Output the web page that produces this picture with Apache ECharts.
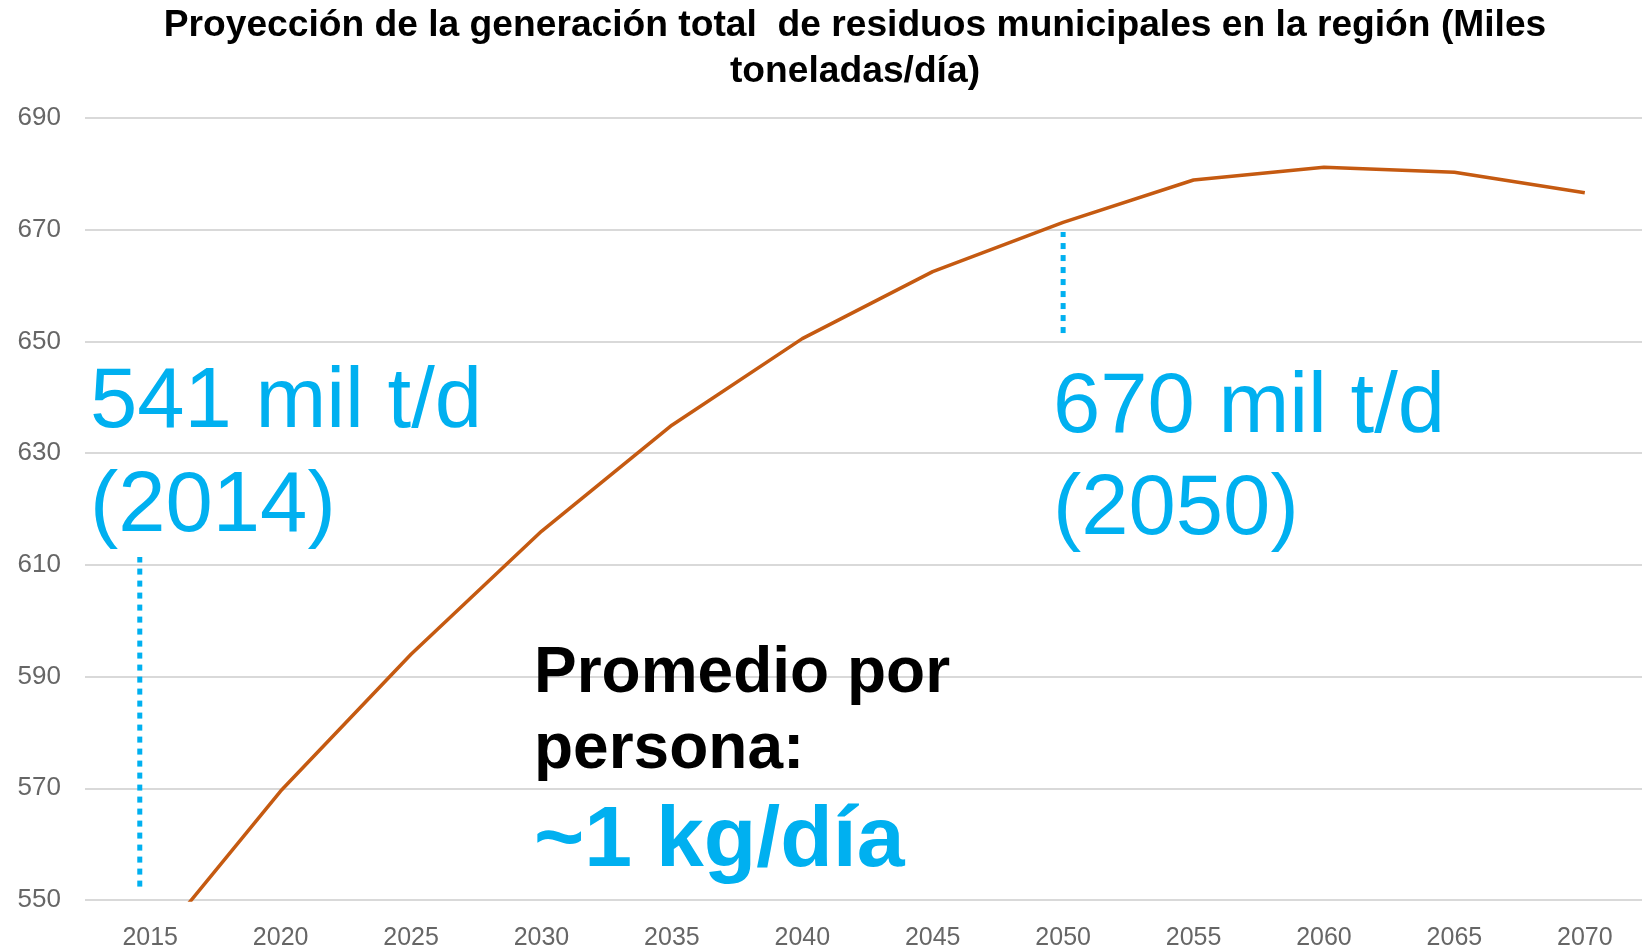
<!DOCTYPE html>
<html>
<head>
<meta charset="utf-8">
<title>Proyección de residuos</title>
<script src="https://cdn.jsdelivr.net/npm/echarts@6/dist/echarts.min.js"></script>
<style>
  html, body { margin: 0; padding: 0; background: #fff; }
  #chart { width: 1642px; height: 951px; }
</style>
</head>
<body>
<div id="chart"></div>
<script>
// años del eje x
const years = ['2015', '2020', '2025', '2030', '2035', '2040', '2045', '2050', '2055', '2060', '2065', '2070'];
// generación total (miles t/día)
const generation = [541, 569.5, 594, 616, 635, 650.5, 662.5, 671.3, 678.9, 681.2, 680.3, 676.6];
// líneas punteadas de referencia [año, valor]
const mark2014 = [[2014.6, 552.4], [2014.6, 611.4]];
const mark2050 = [[2050, 651.5], [2050, 669.6]];

const blue = '#00B0F0';
const font = '"Liberation Sans", Arial, sans-serif';

const title = {
  text: 'Proyección de la generación total  de residuos municipales en la región (Miles\ntoneladas/día)',
  left: 855,
  top: 3,
  padding: 0,
  textAlign: 'center',
  textStyle: {
    fontFamily: font,
    fontSize: 37.2,
    fontWeight: 'bold',
    color: '#000',
    lineHeight: 46,
  },
};

// textos sobre el gráfico
const note = (x, y, text, size, color, bold) => ({
  type: 'text',
  x: x,
  y: y,
  style: {
    text: text,
    fontFamily: font,
    fontSize: size,
    fontWeight: bold ? 'bold' : 'normal',
    fill: color,
    textVerticalAlign: 'middle',
  },
  z: 10,
});

const dotted = {
  color: blue,
  width: 5,
  type: [6, 6],
};

const chart = echarts.init(document.getElementById('chart'));
chart.setOption({
  animation: false,
  title,
  grid: {
    left: 85,
    width: 1565, // la rejilla sigue más allá del borde derecho
    top: 118,
    bottom: 51,
    outerBoundsMode: 'none',
  },
  xAxis: [
    {
      type: 'category',
      data: years,
      boundaryGap: true,
      axisLine: { show: false },
      axisTick: { show: false },
      axisLabel: {
        color: '#666',
        fontFamily: font,
        fontSize: 25,
        margin: 26,
      },
    },
    {
      // eje auxiliar para ubicar las líneas punteadas
      type: 'value',
      min: 2012.5,
      max: 2072.5,
      show: false,
    },
  ],
  yAxis: {
    type: 'value',
    min: 550,
    max: 690,
    interval: 20,
    axisLine: { show: false },
    axisTick: { show: false },
    axisLabel: {
      color: '#666',
      fontFamily: font,
      fontSize: 26,
      margin: 24,
    },
    splitLine: {
      lineStyle: { color: '#D9D9D9', width: 2 },
    },
  },
  series: [
    {
      type: 'line',
      data: generation,
      symbol: 'none',
      clip: true,
      lineStyle: { color: '#C55A11', width: 3.5 },
    },
    {
      type: 'line',
      xAxisIndex: 1,
      data: mark2014,
      symbol: 'none',
      lineStyle: dotted,
    },
    {
      type: 'line',
      xAxisIndex: 1,
      data: mark2050,
      symbol: 'none',
      lineStyle: dotted,
    },
  ],
  graphic: [
    note(90, 404, '541 mil t/d', 85, blue),
    note(90, 508, '(2014)', 85, blue),
    note(1053, 409, '670 mil t/d', 85, blue),
    note(1053, 511, '(2050)', 85, blue),
    note(534, 674, 'Promedio por', 64, '#000', true),
    note(534, 750, 'persona:', 64, '#000', true),
    note(534, 842, '~1 kg/día', 86, blue, true),
  ],
});
</script>
</body>
</html>
